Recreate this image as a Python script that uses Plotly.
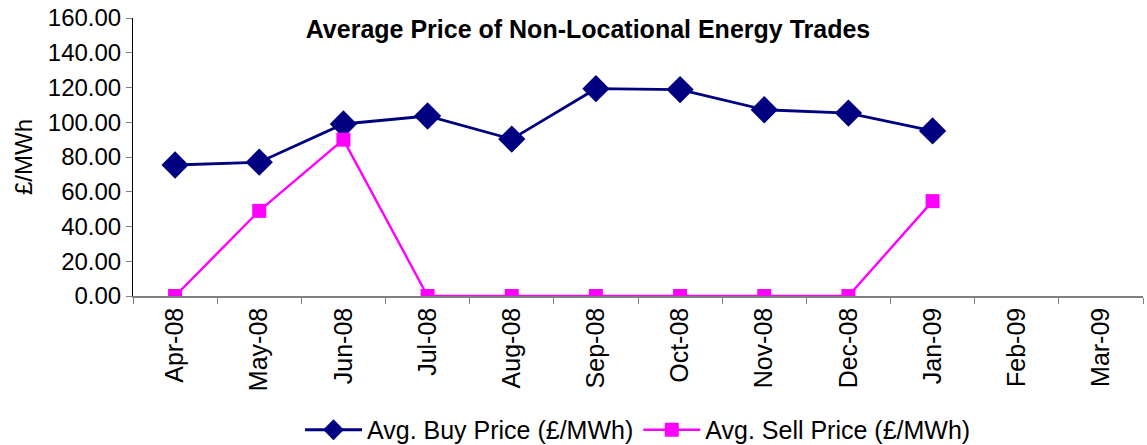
import plotly.graph_objects as go

months = ["Apr-08", "May-08", "Jun-08", "Jul-08", "Aug-08", "Sep-08",
          "Oct-08", "Nov-08", "Dec-08", "Jan-09", "Feb-09", "Mar-09"]
buy_price = [75.4, 77.0, 99.0, 103.6, 90.3, 119.3, 118.8, 107.2, 105.3, 95.0, None, None]
sell_price = [0.0, 49.0, 90.0, 0.0, 0.0, 0.0, 0.0, 0.0, 0.0, 54.6, None, None]
y_ticks = [0, 20, 40, 60, 80, 100, 120, 140, 160]

FONT = "Liberation Sans, Arial, sans-serif"

W, H = 1147, 445
L, R, T, B = 133, 4, 18, 149

fig = go.Figure()
fig.add_trace(go.Scatter(
    x=months, y=buy_price, mode="lines+markers",
    name="Avg. Buy Price (£/MWh)",
    line=dict(color="#000080", width=2.8),
    marker=dict(symbol="diamond", size=21, color="#000080"),
))
fig.add_trace(go.Scatter(
    x=months, y=sell_price, mode="lines+markers",
    name="Avg. Sell Price (£/MWh)",
    line=dict(color="#FF00FF", width=2.4),
    marker=dict(symbol="square", size=14, color="#FF00FF"),
))

fig.update_layout(
    template="none",
    width=W, height=H,
    margin=dict(l=L, r=R, t=T, b=B, autoexpand=False),
    paper_bgcolor="white", plot_bgcolor="white",
    font=dict(family=FONT, size=24, color="black"),
    title=dict(text="<b>Average Price of Non-Locational Energy Trades</b>",
               font=dict(family=FONT, size=25, color="black"),
               x=588 / W, xanchor="center", xref="container",
               y=1 - 29 / H, yanchor="middle", yref="container"),
    showlegend=True,
    legend=dict(orientation="h", x=0.5, xanchor="center", y=-0.482, yanchor="middle",
                font=dict(family=FONT, size=25), itemwidth=57, tracegroupgap=0,
                bgcolor="rgba(0,0,0,0)"),
    annotations=[dict(text="£/MWh", textangle=-90, showarrow=False,
                      xref="paper", yref="paper",
                      x=(23 - L) / (W - L - R), y=0.5,
                      xanchor="center", yanchor="middle",
                      font=dict(family=FONT, size=24, color="black"))],
)
fig.update_xaxes(
    type="category", categoryorder="array", categoryarray=months,
    range=[-0.5, 11.5], automargin=False,
    showline=True, linecolor="#808080", linewidth=1.5,
    ticks="outside", tickson="boundaries", ticklen=6, tickcolor="#808080",
    tickangle=-90, tickfont=dict(family=FONT, size=25),
    showgrid=False, zeroline=False,
)
fig.update_yaxes(
    range=[0, 160], tickvals=y_ticks, tickformat=".2f", automargin=False,
    ticklabeloverflow="allow",
    showline=True, linecolor="black", linewidth=1,
    ticks="outside", ticklen=6, tickcolor="#808080",
    tickfont=dict(family=FONT, size=24),
    showgrid=False, zeroline=False,
)

# remove the default page margin so the figure fills the window exactly
fig.write_html("out.html",
               config={"displayModeBar": False},
               post_script="document.body.style.margin='0';document.body.style.overflow='hidden';")
